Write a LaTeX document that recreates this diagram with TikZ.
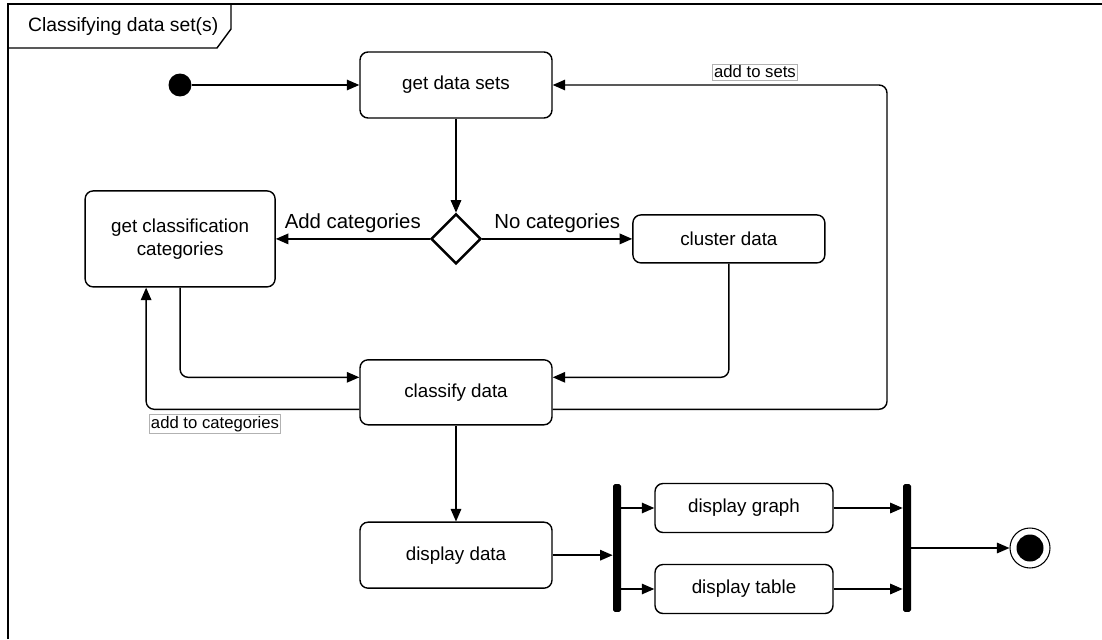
\documentclass[tikz,border=0pt]{standalone}
\usepackage{fontspec}
\setmainfont{Liberation Sans}
\usetikzlibrary{positioning,arrows.meta,shapes.geometric,calc}

\begin{document}
\begin{tikzpicture}[
    x=0.02cm, y=-0.02cm,
    node distance=1.88cm and 3cm,
    act/.style={rectangle, draw, rounded corners=0.16cm, minimum width=3.84cm, minimum height=1.32cm, align=center, font=\fontsize{10.7}{13}\selectfont, line width=0.8pt, inner sep=2pt},
    decision/.style={diamond, draw, line width=1.4pt, minimum width=1cm, minimum height=1cm, inner sep=0pt},
    bar/.style={rectangle, fill=black, rounded corners=1pt, minimum width=0.16cm, minimum height=2.56cm, inner sep=0pt},
    startstate/.style={circle, fill=black, minimum size=0.46cm, inner sep=0pt},
    finalstate/.style={circle, draw, line width=0.6pt, minimum size=0.8cm, inner sep=0pt, path picture={\fill (path picture bounding box.center) circle (0.27cm);}},
    arr/.style={-{Triangle[length=0.25cm, width=0.21cm]}, line width=0.8pt, rounded corners=0.16cm},
    guard/.style={font=\fontsize{11.6}{13}\selectfont, above, inner sep=3pt},
    lbl/.style={draw=black!30, fill=white, font=\fontsize{9.5}{11}\selectfont, inner sep=1pt}
]
\useasboundingbox (0,0) rectangle (1102,639);

% Frame and title
\draw[line width=0.8pt] (8,639) -- (8,4) -- (1102,4);
\draw[line width=0.8pt] (8,4) -- (231,4) -- (231,29) -- (217,48) -- (8,48);
\node[anchor=west, font=\fontsize{11}{13}\selectfont] (title) at (22,27) {Classifying data set(s)};

% Main flow
\node[startstate] (init) at (180,85) {};
\node[act] (getsets) at (456,85) {get data sets};
\node[decision, below=of getsets] (decide) {};
\node[act, left=3.08cm of decide, minimum width=3.8cm, minimum height=1.92cm] (getcat) {get classification\\categories};
\node[act, right=of decide, minimum height=0.96cm] (cluster) {cluster data};
\node[act, below=of decide, minimum height=1.3cm] (classify) {classify data};
\node[act, below=1.92cm of classify] (display) {display data};

% Fork / join
\node[bar] (fork) at (617,548) {};
\node[act, minimum width=3.56cm, minimum height=0.98cm] (graph) at (744,508) {display graph};
\node[act, minimum width=3.56cm, minimum height=0.98cm] (table) at (744,589) {display table};
\node[bar] (join) at (907,548) {};
\node[finalstate] (final) at (1030,548) {};

\coordinate (loopR) at (887,250);

\draw[arr] (init) -- (getsets);
\draw[arr] (getsets) -- (decide);
\draw[arr] (decide) -- node[guard] {Add categories} (getcat);
\draw[arr] (decide) -- node[guard] {No categories} (cluster);
\draw[arr] (getcat.south) |- ([yshift=0.3cm]classify.west);
\draw[arr] (cluster.south) |- ([yshift=0.3cm]classify.east);
\draw[arr] ([yshift=-0.34cm]classify.west) -| ([xshift=-0.68cm]getcat.south);
\draw[arr] ([yshift=-0.34cm]classify.east) -| (loopR) |- (getsets.east);
\draw[arr] (classify) -- (display);
\draw[arr] (display) -- (display -| fork.west);
\draw[arr] (graph -| fork.east) -- (graph);
\draw[arr] (table -| fork.east) -- (table);
\draw[arr] (graph) -- (graph -| join.west);
\draw[arr] (table) -- (table -| join.west);
\draw[arr] (join) -- (final);

% Loop labels
\node[lbl] (setslbl) at (755,72) {add to sets};
\node[lbl] (catlbl) at (215,424) {add to categories};

\end{tikzpicture}
\end{document}
